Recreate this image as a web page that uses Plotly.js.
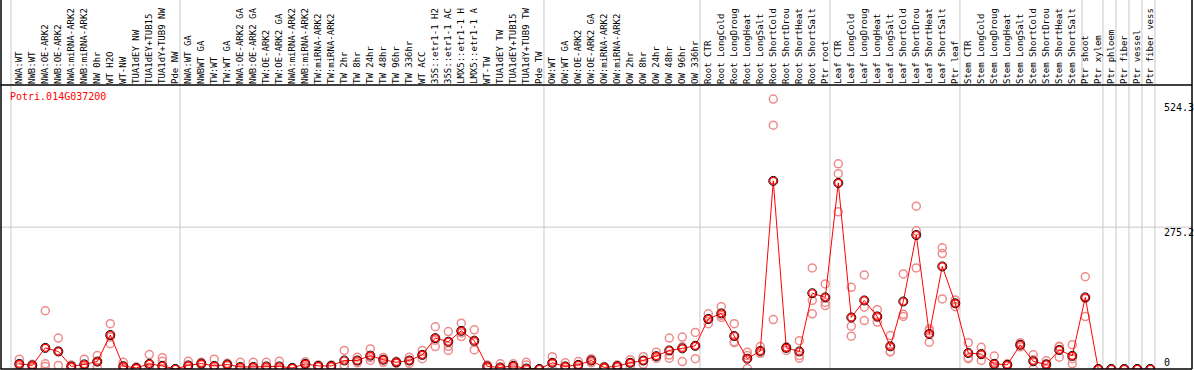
<!DOCTYPE html>
<html>
<head>
<meta charset="utf-8">
<script src="https://cdn.plot.ly/plotly-3.0.1.min.js"></script>
<style>html,body{margin:0;padding:0;background:#fff;}#chart{width:1194px;height:370px;}</style>
</head>
<body>
<div id="chart"></div>
<script>
const geneName = "Potri.014G037200";

const categories = [
  "NWA:WT","NWB:WT","NWA:OE-ARK2","NWB:OE-ARK2","NWA:miRNA-ARK2","NWB:miRNA-ARK2","NW 0hr","WT H2O","WT-NW",
  "TUA1dEY NW","TUA1dEY+TUB15","TUA1dY+TUB9 NW","Pde NW",
  "NWA:WT GA","NWBWT GA","TW:WT","TW:WT GA","NWA:OE-ARK2 GA","NWB:OE-ARK2 GA","TW:OE-ARK2","TW:OE-ARK2 GA",
  "NWA:miRNA-ARK2","NWB:miRNA-ARK2","TW:miRNA-ARK2","TW:miRNA-ARK2","TW 2hr","TW 8hr","TW 24hr","TW 48hr","TW 96hr","TW 336hr",
  "WT ACC","35S::etr1-1 H2","35S::etr1-1 AC","LMX5::etr1-1 H","LMX5::etr1-1 A","WT-TW","TUA1dEY TW","TUA1dEY+TUB15","TUA1dY+TUB9 TW","Pde TW",
  "OW:WT","OW:WT GA","OW:OE-ARK2","OW:OE-ARK2 GA","OW:miRNA-ARK2","OW:miRNA-ARK2","OW 2hr","OW 8hr","OW 24hr","OW 48hr","OW 96hr","OW 336hr",
  "Root CTR","Root LongCold","Root LongDroug","Root LongHeat","Root LongSalt","Root ShortCold","Root ShortDrou","Root ShortHeat","Root ShortSalt","Ptr root",
  "Leaf CTR","Leaf LongCold","Leaf LongDroug","Leaf LongHeat","Leaf LongSalt","Leaf ShortCold","Leaf ShortDrou","Leaf ShortHeat","Leaf ShortSalt","Ptr leaf",
  "Stem CTR","Stem LongCold","Stem LongDroug","Stem LongHeat","Stem LongSalt","Stem ShortCold","Stem ShortDrou","Stem ShortHeat","Stem ShortSalt","Ptr shoot",
  "Ptr xylem","Ptr phloem","Ptr fiber","Ptr vessel","Ptr fiber vess"
];

const means = [
  10,7,41,34,5,9,14.5,66,5.5,
  2,10,6,0,
  7,10.6,6,8.7,4,4,5,5,
  2,10,6,6,16.5,16.5,26,18,13,16.5,
  27.5,60,53,74,55,5,3,6,1,0,
  12,5,8,16.5,3,5.5,12,16.5,25,36,40,45,
  97,108,64,20,35,365,41,34,147,139,
  361,100,133,102,44,131,260,68,199,127.5,
  31,29,10,8,47,15,8.7,37,25.6,139,
  0,0,0,0,0
];

const rep1 = [
  19,9,113,60,8,19,26,88,13,
  4,28,22,0,
  15,13,19,11,13,13,13,15,
  3,14,8,8,36,23,39,22.5,15,23,
  36,82,72.7,89,76,8,10,10,13,0,
  24,12,14.5,20,5,8,18,24,32.6,60,62,71,
  107,121,88,32.6,43.6,523.6,43,55,196,165,
  398,158.5,182.5,115,65,184.5,316,78,235,134,
  51,42,25,10,51,27.5,16,44,47,179,
  0,0,0,0,0
];

const rep2 = [
  8,5,10,35,4,6,14,62,3,
  2,3,15,0,
  5,10,0,9,0,0,2,0,
  2,10,6,6,8,16,22,18,13,16,
  27,56,44,70,52,5,0,6,8,0,
  12,5,8,16,3,5,12,16,21,27,43,45,
  97,104,53,26,31,473,41,26,133,129,
  379,83,120,100,34,106,268,74,224,127,
  22,28,5,8,47,18,10,43,20,137,
  0,0,0,0,0
];

const rep3 = [
  3,3,5,7,3,2,3,49,1,
  0,0,0,0,
  1,8,0,6,0,0,0,0,
  1,6,4,4,6,12,16.5,13,11,11,
  20,43.6,36,63,37,2,0,2,0,0,
  0,0,3,12,1,3,6,9,21,21,14.5,20,
  88,100,51,1,31,96,36,21,107,123,
  305,63.6,94,91,33,102,196,52,136,121,
  20,16.5,0,6,43,0,0,23,10,101.7,
  0,0,0,0,0
];

const yTickVals = [524.3, 275.2, 0];
const yTickText = ["524.3", "275.2", "0"];
const sepBefore = [0, 13, 41, 53, 63, 73, 84, 85, 86, 87, 88];

const idx = categories.map((_, i) => i);
const repX = [], repY = [];
[rep1, rep2, rep3].forEach(r => r.forEach((v, i) => { if (v !== null) { repX.push(i); repY.push(v); } }));

const traces = [
  {
    x: repX, y: repY, type: 'scatter', mode: 'markers', hoverinfo: 'skip',
    marker: {symbol: 'circle-open', size: 8, color: 'rgb(238,140,140)', line: {width: 1.5}}
  },
  {
    x: idx, y: means, type: 'scatter', mode: 'lines', hoverinfo: 'skip',
    line: {color: '#ff0000', width: 1}
  },
  {
    x: idx, y: means, type: 'scatter', mode: 'markers', hoverinfo: 'skip',
    marker: {symbol: 'circle-open', size: 9, color: '#000000', line: {width: 1}}
  },
  {
    x: idx, y: means, type: 'scatter', mode: 'markers', hoverinfo: 'skip',
    marker: {symbol: 'circle-open', size: 7, color: '#ff0000', line: {width: 1.2}}
  }
];

const shapes = [];
sepBefore.forEach(k => shapes.push({
  type: 'line', xref: 'x', yref: 'paper', x0: k - 0.64, x1: k - 0.64, y0: 0, y1: 1.3,
  line: {color: '#c8c8c8', width: 1}, layer: 'below'
}));
shapes.push({type: 'line', xref: 'x', yref: 'paper', x0: 81.75, x1: 81.75, y0: 1, y1: 1.3,
  line: {color: '#c8c8c8', width: 1}, layer: 'below'});
shapes.push({type: 'line', xref: 'paper', yref: 'y', x0: -0.01, x1: 1, y0: yTickVals[1], y1: yTickVals[1],
  line: {color: '#c8c8c8', width: 1}, layer: 'below'});
// frame
shapes.push({type: 'line', xref: 'paper', yref: 'paper', x0: -0.0005, x1: 1, y0: 0, y1: 0, line: {color: '#000', width: 1.5}});
shapes.push({type: 'line', xref: 'paper', yref: 'paper', x0: -0.0005, x1: 1, y0: 1, y1: 1, line: {color: '#000', width: 1.5}});
shapes.push({type: 'line', xref: 'paper', yref: 'paper', x0: 0, x1: 0, y0: 0, y1: 1.3, line: {color: '#000', width: 1.5}});
shapes.push({type: 'line', xref: 'paper', yref: 'paper', x0: 1, x1: 1, y0: 0, y1: 1.3, line: {color: '#000', width: 1.5}});

const annotations = [];
yTickVals.forEach((v, i) => annotations.push({
  xref: 'paper', yref: 'y', x: 0.9745, y: v, xanchor: 'left', yanchor: 'middle',
  yshift: [-9, -5, 7][i], text: yTickText[i], showarrow: false,
  font: {family: 'DejaVu Sans Mono', size: 10, color: '#000'}
}));
annotations.push({
  xref: 'paper', yref: 'paper', x: 0.006, y: 0.958, xanchor: 'left', yanchor: 'middle',
  text: geneName, showarrow: false, font: {family: 'DejaVu Sans Mono', size: 10, color: '#ff0000'}
});

const layout = {
  width: 1194, height: 370,
  margin: {l: 1, r: 2, t: 85, b: 1, pad: 0},
  paper_bgcolor: '#fff', plot_bgcolor: '#fff',
  showlegend: false,
  xaxis: {
    side: 'top', range: [-1.408, 90.21], tickmode: 'array', tickvals: idx, ticktext: categories,
    tickangle: -90, ticks: '', showgrid: false, zeroline: false, showline: false,
    tickfont: {family: 'DejaVu Sans Mono', size: 9, color: '#000'}, automargin: false
  },
  yaxis: {
    range: [0, 551], showticklabels: false, showgrid: false, zeroline: false, showline: false, ticks: ''
  },
  shapes: shapes,
  annotations: annotations
};

Plotly.newPlot('chart', traces, layout, {staticPlot: true, displayModeBar: false});
</script>
</body>
</html>
